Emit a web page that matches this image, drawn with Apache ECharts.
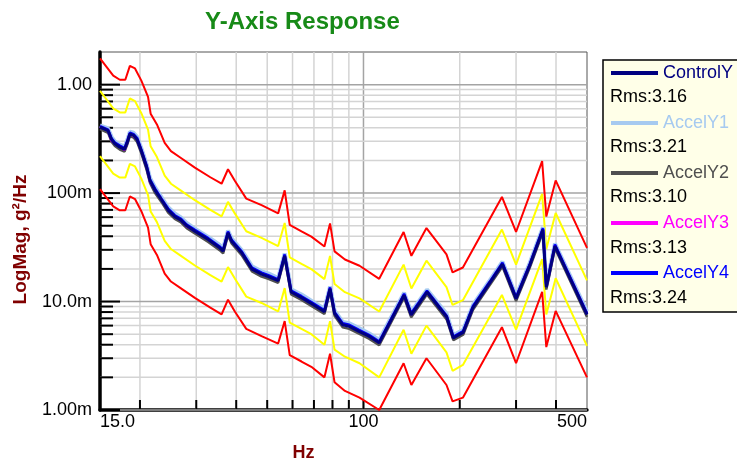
<!DOCTYPE html>
<html><head><meta charset="utf-8">
<script src="https://cdn.jsdelivr.net/npm/echarts@6/dist/echarts.min.js"></script>
<style>html,body{margin:0;padding:0;background:#fff}#c{width:737px;height:467px}</style>
</head><body><div id="c"></div>
<script>
const FONT = '"Liberation Sans", Arial, sans-serif';

// ---- measured traces (Hz, g^2/Hz) ----
const measFreq = [15,15.9,16.3,16.7,17.3,17.9,18.3,18.6,19.1,19.6,20.2,21.0,21.5,22.3,23.4,24.5,25.7,26.8,28.0,29.7,32.7,35.5,36.4,37.7,38.7,41.6,44.8,48.0,50.4,54.1,56.7,59.4,64.0,68.7,75.5,78.6,81.2,86.1,90.3,96.8,104,112,134,141,158,182,191,205,220,248,272,300,331,364,373,380,397,500];
const controlY = [0.405,0.376,0.311,0.285,0.265,0.253,0.300,0.351,0.341,0.311,0.244,0.172,0.130,0.106,0.0859,0.0697,0.0607,0.0566,0.0499,0.0445,0.0373,0.0313,0.0292,0.0429,0.0360,0.0282,0.0199,0.0179,0.0170,0.0156,0.0264,0.01224,0.01087,0.0096,0.00807,0.0131,0.00778,0.00611,0.0059,0.00531,0.00479,0.00416,0.01143,0.00753,0.01224,0.0072,0.00462,0.0052,0.0088,0.0148,0.0221,0.01064,0.0215,0.046,0.0136,0.0175,0.0325,0.00757];
const accelY1 = [0.42,0.395,0.33,0.30,0.28,0.268,0.315,0.368,0.36,0.33,0.26,0.183,0.138,0.113,0.091,0.074,0.065,0.06,0.053,0.047,0.0395,0.0333,0.031,0.0452,0.0383,0.0298,0.0212,0.019,0.0182,0.0165,0.0278,0.013,0.0116,0.0102,0.0086,0.0138,0.0083,0.0065,0.0063,0.0057,0.0051,0.00442,0.0121,0.008,0.0129,0.0077,0.0049,0.0055,0.0093,0.0156,0.0233,0.0113,0.0227,0.0484,0.0145,0.0185,0.0343,0.0081];
const accelY2 = [0.39,0.36,0.298,0.272,0.252,0.241,0.287,0.336,0.325,0.296,0.233,0.163,0.124,0.1,0.082,0.066,0.0578,0.054,0.0475,0.0424,0.0355,0.0298,0.0278,0.0408,0.0343,0.0268,0.019,0.017,0.0162,0.0149,0.0252,0.01165,0.01035,0.0091,0.00768,0.0125,0.0074,0.0058,0.0056,0.00505,0.00455,0.00396,0.0109,0.00716,0.01165,0.00685,0.0044,0.00495,0.0084,0.0141,0.021,0.0101,0.0205,0.0438,0.0129,0.0166,0.031,0.0072];
const accelY3 = [0.41,0.38,0.305,0.288,0.27,0.25,0.305,0.355,0.338,0.315,0.248,0.175,0.128,0.108,0.087,0.07,0.0615,0.0572,0.0495,0.045,0.0378,0.0318,0.0295,0.0435,0.0362,0.0285,0.0202,0.0181,0.0172,0.0158,0.0268,0.0124,0.011,0.0097,0.0082,0.0133,0.0079,0.0062,0.006,0.0054,0.00485,0.0042,0.0116,0.0076,0.0124,0.0073,0.0047,0.00525,0.0089,0.015,0.0224,0.0108,0.0218,0.0466,0.0138,0.0177,0.033,0.0077];
const accelY4 = [0.415,0.385,0.32,0.293,0.274,0.26,0.31,0.36,0.35,0.322,0.252,0.178,0.134,0.11,0.088,0.072,0.0625,0.0583,0.0513,0.0458,0.0384,0.0322,0.03,0.0442,0.037,0.029,0.0205,0.0185,0.0175,0.016,0.0272,0.0126,0.0112,0.0099,0.0083,0.0135,0.008,0.0063,0.0061,0.00547,0.00493,0.00428,0.0118,0.0078,0.0126,0.0074,0.00476,0.00535,0.0091,0.0152,0.0228,0.011,0.0221,0.0474,0.014,0.018,0.0335,0.0078];

// ---- limit lines ----
const limFreq = [15,16.5,17.3,18.0,18.6,19.3,20.2,21.2,21.6,22.6,23.9,25.0,26.8,29.7,33.2,36.0,37.7,39.6,43.0,48.0,54.1,56.7,58.8,64.0,68.7,75.5,78.6,81.2,87.5,97.2,112,133.5,141.2,157.4,181.8,189.9,204.6,271,300,362,373,380,399,500];
const abortHigh = [1.75,1.21,1.11,1.11,1.49,1.41,1.09,0.77,0.54,0.43,0.29,0.244,0.212,0.172,0.14,0.122,0.166,0.13,0.089,0.0774,0.065,0.106,0.051,0.0444,0.0397,0.0322,0.0525,0.029,0.0244,0.0214,0.0162,0.0438,0.0264,0.0476,0.0272,0.0186,0.0206,0.0922,0.0438,0.197,0.0607,0.0753,0.131,0.0313];
const alarmHigh = [0.875,0.605,0.555,0.555,0.745,0.705,0.545,0.385,0.27,0.215,0.145,0.122,0.106,0.086,0.07,0.061,0.083,0.065,0.0445,0.0387,0.0325,0.053,0.0255,0.0222,0.0199,0.0161,0.0263,0.0145,0.0122,0.0107,0.0081,0.0219,0.0132,0.0238,0.0136,0.0093,0.0103,0.0461,0.0219,0.0985,0.0304,0.0377,0.0655,0.0157];
const alarmLow = [0.219,0.151,0.139,0.139,0.186,0.176,0.136,0.096,0.0675,0.054,0.0363,0.0305,0.0265,0.0215,0.0175,0.0153,0.0208,0.0163,0.0111,0.0097,0.0081,0.0133,0.0064,0.0056,0.005,0.004,0.0066,0.0036,0.0031,0.0027,0.002,0.0055,0.0033,0.006,0.0034,0.0023,0.0026,0.0115,0.0055,0.0246,0.0076,0.0094,0.0164,0.0039];
const abortLow = [0.109,0.0756,0.0694,0.0694,0.0931,0.0881,0.0681,0.0481,0.0338,0.0269,0.0181,0.0153,0.0133,0.0108,0.0088,0.0076,0.0104,0.0081,0.0056,0.0048,0.0041,0.0066,0.0032,0.0028,0.0025,0.002,0.0033,0.0018,0.0015,0.0013,0.001,0.0027,0.0017,0.003,0.0017,0.0012,0.0013,0.0058,0.0027,0.0123,0.0038,0.0047,0.0082,0.002];

// ---- legend / labels ----
const seriesNames = ['ControlY','AccelY1','AccelY2','AccelY3','AccelY4'];
const rmsValues = [3.16,3.21,3.10,3.13,3.24];
const xTickHz = [15,100,500];
const xTickText = ['15.0','100','500'];
const yTickVal = [0.001,0.01,0.1,1];
const yTickText = ['1.00m','10.0m','100m','1.00'];
const xGridHz = [20,30,40,50,60,70,80,90,100,200,300,400];
const yGridMinor = [0.002,0.003,0.004,0.005,0.006,0.007,0.008,0.009,0.02,0.03,0.04,0.05,0.06,0.07,0.08,0.09,0.2,0.3,0.4,0.5,0.6,0.7,0.8,0.9];
const X_MIN = 15, X_MAX = 500, Y_MIN = 0.001, Y_MAX = 2;

const traceColors = ['#000080','#a6caf0','#505050','#ff00ff','#0000ff'];
const traceData = [controlY, accelY1, accelY2, accelY3, accelY4];

function pick(v, vals, texts){
  const i = vals.findIndex(t => Math.abs(Math.log10(v / t)) < 0.005);
  return i >= 0 ? texts[i] : '';
}

const chart = echarts.init(document.getElementById('c'), null, {renderer:'canvas'});

const series = [];
// gridlines + ticks (custom, drawn through the axes' scales)
series.push({
  type:'custom', name:'vgrid', silent:true, z:1, clip:false,
  data: xGridHz.map(f => [f, Y_MIN]),
  renderItem: (p, api) => {
    const f = api.value(0);
    const top = api.coord([f, Y_MAX]), bot = api.coord([f, Y_MIN]);
    return {type:'group', children:[
      {type:'line', shape:{x1:top[0],y1:top[1],x2:bot[0],y2:bot[1]}, style:{stroke: f===100?'#a4a4a4':'#d4d4d4', lineWidth:1.5}},
      {type:'line', shape:{x1:bot[0],y1:bot[1],x2:bot[0],y2:bot[1]-10}, style:{stroke:'#000', lineWidth:2}}
    ]};
  }
});
const hgridData = yTickVal.map(v => [X_MIN, v, 1]).concat(yGridMinor.map(v => [X_MIN, v, 0]));
series.push({
  type:'custom', name:'hgrid', silent:true, z:1, clip:false,
  data: hgridData,
  renderItem: (p, api) => {
    const v = api.value(1), major = api.value(2) === 1;
    const a = api.coord([X_MIN, v]), b = api.coord([X_MAX, v]);
    return {type:'group', children:[
      {type:'line', shape:{x1:a[0],y1:a[1],x2:b[0],y2:b[1]}, style:{stroke: major?'#a4a4a4':'#d4d4d4', lineWidth:1.5}},
      {type:'line', shape:{x1:a[0],y1:a[1],x2:a[0]+(major?20:13),y2:a[1]}, style:{stroke:'#000', lineWidth:2}}
    ]};
  }
});
// limit lines
[[abortHigh,'#ff0000'],[alarmHigh,'#ffff00'],[alarmLow,'#ffff00'],[abortLow,'#ff0000']].forEach(([arr,col],k) => {
  series.push({
    type:'line', name:'limit'+k, silent:true, symbol:'none', z:2,
    data: limFreq.map((f,i) => [f, arr[i]]),
    lineStyle:{color:col, width:2}, itemStyle:{color:col}
  });
});
// measured traces: accels first, control on top
[1,2,3,4,0].forEach(i => {
  series.push({
    type:'line', name:seriesNames[i], symbol:'none', z:3,
    data: measFreq.map((f,j) => [f, traceData[i][j]]),
    lineStyle:{color:traceColors[i], width: i===0?3:(i===1?4:2.5)},
    itemStyle:{color:traceColors[i]}
  });
});

const option = {
  animation:false,
  backgroundColor:'#ffffff',
  title:{text:'Y-Axis Response', left:205, top:10, padding:0,
    textStyle:{fontFamily:FONT, fontSize:24, fontWeight:'bold', color:'#178a17'}},
  grid:{left:100, top:52, right:150, bottom:52, show:true, borderColor:'#555', borderWidth:1, backgroundColor:'transparent'},
  xAxis:{type:'log', logBase:10, min:X_MIN, max:X_MAX,
    axisLine:{show:true, onZero:false, lineStyle:{color:'#000', width:3.5}},
    axisTick:{show:false}, splitLine:{show:false}, minorTick:{show:false}, minorSplitLine:{show:false},
    axisLabel:{fontFamily:FONT, fontSize:18, color:'#000', margin:3, showMinLabel:true, showMaxLabel:true,
      alignMinLabel:'left', alignMaxLabel:'right', formatter: v => pick(v, xTickHz, xTickText)},
    name:'Hz', nameLocation:'middle', nameGap:34,
    nameTextStyle:{fontFamily:FONT, fontSize:18, fontWeight:'bold', color:'#800000', padding:[0,80,0,0]}},
  yAxis:{type:'log', logBase:10, min:Y_MIN, max:Y_MAX,
    axisLine:{show:true, onZero:false, lineStyle:{color:'#000', width:3.5}},
    axisTick:{show:false}, splitLine:{show:false}, minorTick:{show:false}, minorSplitLine:{show:false},
    axisLabel:{fontFamily:FONT, fontSize:18, color:'#000', margin:8, showMinLabel:true, showMaxLabel:false,
      formatter: v => pick(v, yTickVal, yTickText)},
    name:'LogMag, g²/Hz', nameLocation:'middle', nameGap:70, nameRotate:90,
    nameTextStyle:{fontFamily:FONT, fontSize:19, fontWeight:'bold', color:'#800000', padding:[0,17,0,0]}},
  legend:{orient:'vertical', left:603, top:60, padding:[3,20,29,8], itemGap:30, itemWidth:47, itemHeight:4,
    icon:'rect', selectedMode:false, backgroundColor:'#ffffe8', borderColor:'#000', borderWidth:1.5,
    textStyle:{fontFamily:FONT, fontSize:18, lineHeight:20},
    data: seriesNames.map((n,i) => ({name:n, textStyle:{color:traceColors[i]}}))},
  graphic: rmsValues.map((r,i) => ({type:'text', z:100, x:610, y:96.7 + i*50.4,
    style:{text:'Rms:' + r.toFixed(2), fontFamily:FONT, fontSize:18, fill:'#000', verticalAlign:'middle', align:'left'}})),
  series
};
chart.setOption(option);
</script>
</body></html>
